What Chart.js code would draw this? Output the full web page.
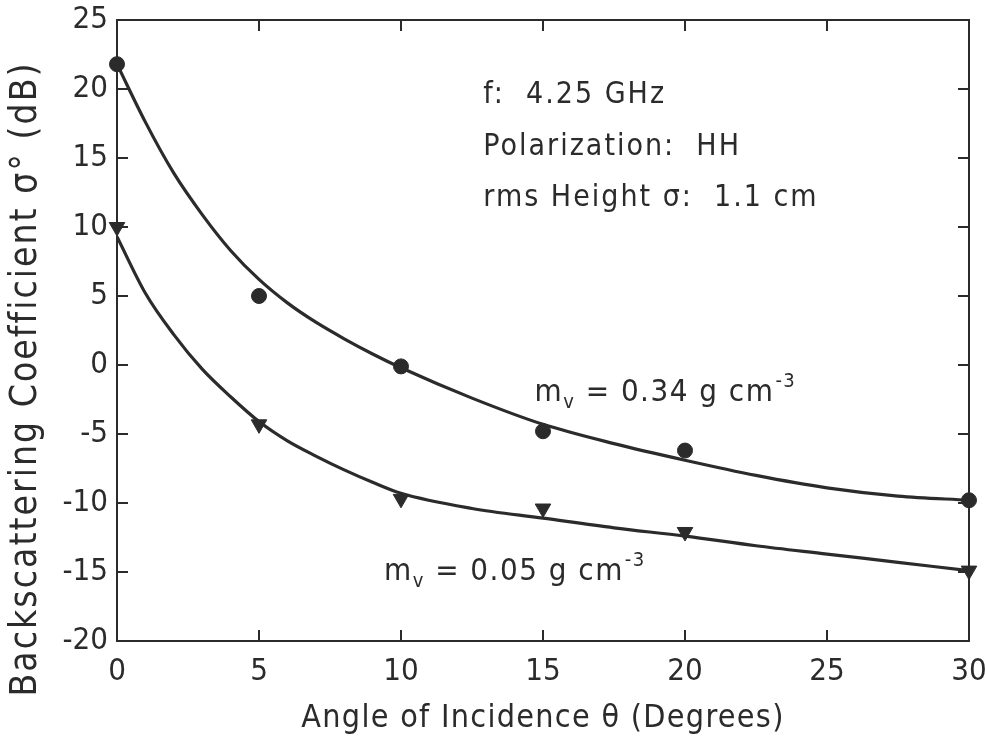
<!DOCTYPE html>
<html>
<head>
<meta charset="utf-8">
<script src="https://cdn.jsdelivr.net/npm/chart.js@4/dist/chart.umd.min.js"></script>
<style>
  html, body { margin: 0; padding: 0; background: #fff; }
  #wrap { width: 985px; height: 740px; }
</style>
</head>
<body>
<div id="wrap"><canvas id="chart"></canvas></div>
<script>
// measured points (angle in degrees, sigma0 in dB)
const angles = [0, 5, 10, 15, 20, 30];
const wetValues = [21.8, 5.0, -0.1, -4.8, -6.2, -9.8];   // mv = 0.34
const dryValues = [10.0, -4.3, -9.7, -10.4, -12.1, -14.9]; // mv = 0.05

// fitted curves
const curveAngles = [0, 1, 2, 3, 4, 5, 6, 7, 8, 9, 10, 12.5, 15, 17.5, 20, 22.5, 25, 27.5, 30];
const wetCurve = [21.8, 17.6, 13.9, 10.9, 8.3, 6.2, 4.5, 3.1, 1.9, 0.8, -0.2, -2.4, -4.3, -5.7, -6.9, -8.0, -8.9, -9.5, -9.8];
const dryCurve = [9.3, 5.2, 2.2, -0.3, -2.3, -4.1, -5.5, -6.6, -7.6, -8.5, -9.3, -10.4, -11.1, -11.8, -12.4, -13.1, -13.7, -14.3, -14.9];

const xTicks = [0, 5, 10, 15, 20, 25, 30];
const yTicks = [-20, -15, -10, -5, 0, 5, 10, 15, 20, 25];

const ink = '#2b2b2b';
const fontFam = "'DejaVu Sans Condensed', 'DejaVu Sans', sans-serif";

function pts(xs, ys) {
    return xs.map((x, i) => ({ x: x, y: ys[i] }));
}

// box, inward ticks and the text pieces
const decorations = {
    id: 'decorations',
    afterDraw(chart) {
        const ctx = chart.ctx;
        const a = chart.chartArea;
        const xs = chart.scales.x;
        const ys = chart.scales.y;
        const tl = 11;
        ctx.save();
        ctx.strokeStyle = ink;
        ctx.lineWidth = 2;
        ctx.strokeRect(a.left, a.top, a.right - a.left, a.bottom - a.top);
        ctx.beginPath();
        xTicks.slice(1, -1).forEach(v => {
            const px = xs.getPixelForValue(v);
            ctx.moveTo(px, a.bottom); ctx.lineTo(px, a.bottom - tl);
            ctx.moveTo(px, a.top); ctx.lineTo(px, a.top + tl);
        });
        yTicks.slice(1, -1).forEach(v => {
            const py = ys.getPixelForValue(v);
            ctx.moveTo(a.left, py); ctx.lineTo(a.left + tl, py);
            ctx.moveTo(a.right, py); ctx.lineTo(a.right - tl, py);
        });
        ctx.stroke();

        ctx.fillStyle = ink;
        // axis titles
        ctx.save();
        ctx.letterSpacing = '2px';
        ctx.translate(26, 379);
        ctx.rotate(-Math.PI / 2);
        ctx.font = '37px ' + fontFam;
        ctx.textAlign = 'center';
        ctx.textBaseline = 'middle';
        ctx.fillText('Backscattering Coefficient σ° (dB)', 0, 0);
        ctx.restore();

        ctx.save();
        ctx.letterSpacing = '1.3px';
        ctx.font = '32px ' + fontFam;
        ctx.textAlign = 'center';
        ctx.fillText('Angle of Incidence θ (Degrees)', (a.left + a.right) / 2, 727);
        ctx.restore();

        // parameters block
        ctx.save();
        ctx.letterSpacing = '2px';
        ctx.font = '30px ' + fontFam;
        ctx.textAlign = 'left';
        ctx.textBaseline = 'alphabetic';
        const px0 = xs.getPixelForValue(12.9);
        ctx.fillText('f:  4.25 GHz', px0, ys.getPixelForValue(19.0));
        ctx.fillText('Polarization:  HH', px0, ys.getPixelForValue(15.2));
        ctx.fillText('rms Height σ:  1.1 cm', px0, ys.getPixelForValue(11.5));
        ctx.restore();

        // curve labels
        const label = (x, y, val) => {
            let cx = xs.getPixelForValue(x);
            const by = ys.getPixelForValue(y);
            ctx.font = '31px ' + fontFam;
            ctx.fillText('m', cx, by);
            cx += ctx.measureText('m').width;
            ctx.font = '20px ' + fontFam;
            ctx.fillText('v', cx, by + 7);
            cx += ctx.measureText('v').width;
            ctx.font = '31px ' + fontFam;
            const main = ' = ' + val + ' g cm';
            ctx.fillText(main, cx, by);
            cx += ctx.measureText(main).width + 1;
            ctx.font = '20px ' + fontFam;
            ctx.fillText('-3', cx, by - 14);
        };
        ctx.save();
        ctx.letterSpacing = '1.5px';
        label(14.7, -2.6, '0.34');
        label(9.4, -15.6, '0.05');
        ctx.restore();
        ctx.restore();
    }
};

new Chart(document.getElementById('chart'), {
    type: 'scatter',
    data: {
        datasets: [
            {
                data: pts(curveAngles, wetCurve),
                showLine: true, pointRadius: 0,
                borderColor: ink, borderWidth: 3.2,
                cubicInterpolationMode: 'monotone'
            },
            {
                data: pts(curveAngles, dryCurve),
                showLine: true, pointRadius: 0,
                borderColor: ink, borderWidth: 3.2,
                cubicInterpolationMode: 'monotone'
            },
            {
                data: pts(angles, wetValues),
                showLine: false, pointStyle: 'circle', pointRadius: 7.5,
                backgroundColor: ink, borderColor: ink, borderWidth: 1,
                clip: false
            },
            {
                data: pts(angles, dryValues),
                showLine: false, pointStyle: 'triangle', rotation: 180, pointRadius: 9,
                backgroundColor: ink, borderColor: ink, borderWidth: 1,
                clip: false
            }
        ]
    },
    options: {
        responsive: true,
        maintainAspectRatio: false,
        animation: false,
        layout: { padding: { top: 20, right: 16, left: 0, bottom: 0 } },
        plugins: { legend: { display: false }, tooltip: { enabled: false } },
        scales: {
            x: {
                type: 'linear', min: 0, max: 30,
                afterBuildTicks: s => { s.ticks = xTicks.map(v => ({ value: v })); },
                afterFit: s => { s.height = 99; s.paddingLeft = 0; s.paddingRight = 0; },
                grid: { display: false, drawTicks: false },
                border: { display: false },
                ticks: { color: ink, padding: 12, maxRotation: 0, font: { family: fontFam, size: 31 } }
            },
            y: {
                type: 'linear', min: -20, max: 25,
                afterBuildTicks: s => { s.ticks = yTicks.map(v => ({ value: v })); },
                afterFit: s => { s.width = 117; s.paddingTop = 0; s.paddingBottom = 0; },
                grid: { display: false, drawTicks: false },
                border: { display: false },
                ticks: { color: ink, padding: 9, font: { family: fontFam, size: 31 } }
            }
        }
    },
    plugins: [decorations]
});
</script>
</body>
</html>
